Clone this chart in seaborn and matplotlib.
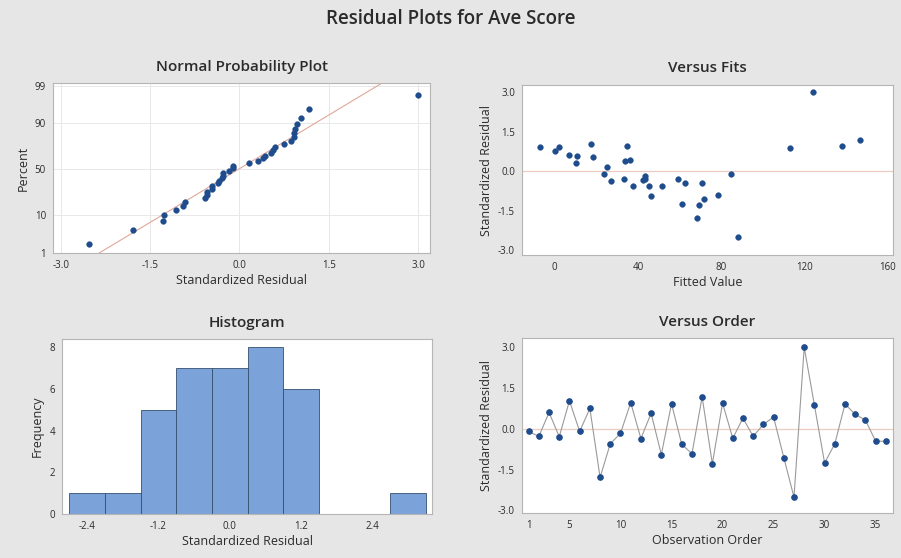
import matplotlib
matplotlib.use("Agg")
import matplotlib.pyplot as plt
import seaborn as sns
import numpy as np
import pandas as pd
from statistics import NormalDist

# ---------------- data ----------------
observation = list(range(1, 37))
residuals = [-0.10, -0.28, 0.60, -0.29, 1.03, -0.10, 0.75, -1.79, -0.55, -0.17,
             0.96, -0.36, 0.57, -0.95, 0.92, -0.57, -0.92, 1.17, -1.29, 0.94,
             -0.35, 0.39, -0.28, 0.16, 0.43, -1.06, -2.52, 3.00, 0.87, -1.26,
             -0.55, 0.91, 0.53, 0.32, -0.46, -0.46]
fitted = [84.8, 43.2, 6.7, 59.2, 17.3, 23.7, 0.3, 68.3, 37.8, 43.5,
          34.9, 26.9, 10.9, 46.4, -7.2, 51.5, 78.6, 146.7, 69.4, 137.8,
          42.4, 33.8, 33.1, 25.1, 36.0, 71.7, 88.0, 124.0, 113.1, 61.1,
          45.3, 1.9, 18.4, 10.2, 62.6, 70.6]
pct_ticks = [1, 10, 50, 90, 99]
npp_xticks = [-3.0, -1.5, 0.0, 1.5, 3.0]
fits_xticks = [0, 40, 80, 120, 160]
resid_yticks = [-3.0, -1.5, 0.0, 1.5, 3.0]
hist_xticks = [-2.4, -1.2, 0.0, 1.2, 2.4]
hist_yticks = [0, 2, 4, 6, 8]
order_xticks = [1, 5, 10, 15, 20, 25, 30, 35]

df = pd.DataFrame({"obs": observation, "resid": residuals, "fit": fitted})

# ---------------- style ----------------
sns.set_theme(style="white")
plt.rcParams["font.family"] = ["Open Sans", "DejaVu Sans"]
BG = "#e6e6e6"
PT = "#1f4c8c"
TXT = "#2b2b2b"
SPINE = "#b5b5b5"

W, H = 901, 558
fig = plt.figure(figsize=(W / 100, H / 100), dpi=100, facecolor=BG)


def add_ax(l, t, r, b):
    ax = fig.add_axes([l / W, 1 - b / H, (r - l) / W, (b - t) / H])
    ax.set_facecolor("white")
    for s in ax.spines.values():
        s.set_color(SPINE)
        s.set_linewidth(0.8)
    ax.tick_params(axis="both", labelsize=7, colors="#555555", labelcolor=TXT,
                   length=3, width=0.6, direction="out", pad=2)
    return ax


def style_labels(ax, title, xl, yl):
    ax.set_title(title, fontsize=11, fontweight="semibold", color=TXT, pad=9)
    ax.set_xlabel(xl, fontsize=9, color=TXT, labelpad=2)
    ax.set_ylabel(yl, fontsize=9, color=TXT, labelpad=4)


fig.suptitle("Residual Plots for Ave Score", fontsize=13.5, fontweight="semibold",
             color=TXT, y=1 - 19 / H, va="center")

nd = NormalDist()

# ---------------- Normal probability plot ----------------
ax1 = add_ax(53, 83, 430, 253)
n = len(residuals)
rs = np.sort(np.array(residuals))
pp = (np.arange(1, n + 1) - 0.3) / (n + 0.4)
zz = np.array([nd.inv_cdf(p) for p in pp])
m, sd = np.mean(rs), np.std(rs, ddof=1)
zl = np.array([-3.0, 3.0])
ax1.grid(True, color="#e8e8e8", linewidth=0.7)
ax1.set_axisbelow(True)
sns.lineplot(x=m + sd * zl, y=zl, ax=ax1, color="#e0a898", linewidth=0.8)
sns.scatterplot(x=rs, y=zz, ax=ax1, color=PT, s=17, edgecolor=PT, linewidth=0.3, zorder=3)
ax1.set_xlim(-3.13, 3.2)
ax1.set_ylim(nd.inv_cdf(0.01), nd.inv_cdf(0.992))
ax1.set_xticks(npp_xticks)
ax1.set_xticklabels([f"{v:.1f}" for v in npp_xticks])
ax1.set_yticks([nd.inv_cdf(p / 100) for p in pct_ticks])
ax1.set_yticklabels([str(p) for p in pct_ticks])
style_labels(ax1, "Normal Probability Plot", "Standardized Residual", "Percent")

# ---------------- Versus fits ----------------
ax2 = add_ax(522, 85, 893, 255)
ax2.axhline(0, color="#ecccc0", linewidth=0.9, zorder=1)
sns.scatterplot(data=df, x="fit", y="resid", ax=ax2, color=PT, s=17, edgecolor=PT,
                linewidth=0.3, zorder=3)
ax2.set_xlim(-15.7, 162.4)
ax2.set_ylim(-3.19, 3.28)
ax2.set_xticks(fits_xticks)
ax2.set_yticks(resid_yticks)
ax2.set_yticklabels([f"{v:.1f}" for v in resid_yticks])
style_labels(ax2, "Versus Fits", "Fitted Value", "Standardized Residual")

# ---------------- Histogram ----------------
ax3 = add_ax(62, 339, 432, 514)
sns.histplot(residuals, ax=ax3, binwidth=0.6, binrange=(-2.7, 3.3), color="#7ca2da",
             edgecolor="#34506e", linewidth=0.6, alpha=1)
ax3.set_xlim(-2.82, 3.40)
ax3.set_ylim(0, 8.4)
ax3.set_xticks(hist_xticks)
ax3.set_xticklabels([f"{v:.1f}" for v in hist_xticks])
ax3.set_yticks(hist_yticks)
style_labels(ax3, "Histogram", "Standardized Residual", "Frequency")

# ---------------- Versus order ----------------
ax4 = add_ax(522, 338, 893, 513)
ax4.axhline(0, color="#ecccc0", linewidth=0.9, zorder=1)
sns.lineplot(data=df, x="obs", y="resid", ax=ax4, color="#9a9a9a", linewidth=0.8,
             marker="o", markersize=4, markerfacecolor=PT, markeredgecolor=PT, zorder=3)
ax4.set_xlim(0.35, 36.7)
ax4.set_ylim(-3.1, 3.34)
ax4.set_xticks(order_xticks)
ax4.set_yticks(resid_yticks)
ax4.set_yticklabels([f"{v:.1f}" for v in resid_yticks])
style_labels(ax4, "Versus Order", "Observation Order", "Standardized Residual")

fig.savefig("out.png", dpi=100, facecolor=BG)
